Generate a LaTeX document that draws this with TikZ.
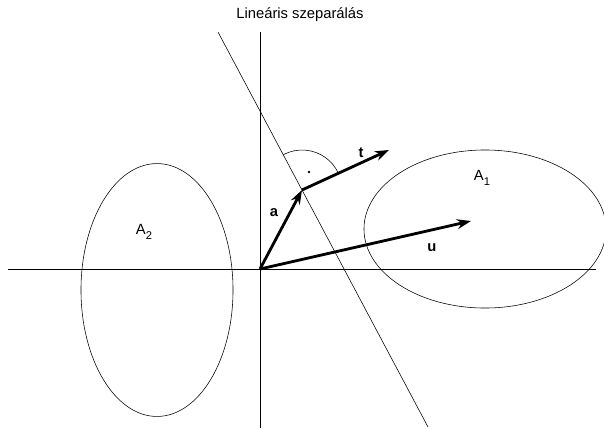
\documentclass[tikz,border=0pt]{standalone}
\usepackage{fontspec}
\setmainfont{Liberation Sans}
\usepackage{tikz}
\usetikzlibrary{arrows.meta,shapes,positioning,calc}

\newcommand{\halmaz}[1]{A\raisebox{-0.55ex}{\fontsize{8}{9}\selectfont #1}}

\tikzset{
    vec/.style={-{Stealth[length=10pt,width=7pt]},line width=2pt},
    lbl/.style={font=\fontsize{10.5}{12}\selectfont},
    vlbl/.style={font=\fontsize{10.5}{12}\selectfont\bfseries},
}

\begin{document}
\begin{tikzpicture}[x=0.025cm,y=-0.025cm]
    \useasboundingbox (0,0) rectangle (604,428);
    \clip (0,0) rectangle (604,428);

        % tengelyek
        \draw[black] (8,269) -- (596,269);
        \draw[black] (260,32) -- (260,428);

        % szeparalo egyenes
        \coordinate (s1) at (218,32);
        \coordinate (s2) at (428,427);
        \draw[black] (s1) -- (s2);

        % halmazok
        \draw[black] (485,229) ellipse [x radius=3.025cm, y radius=1.975cm];
        \draw[black] (157,290) ellipse [x radius=1.9cm, y radius=3.16cm];
        \node[lbl] (A1) at (482,178) {\halmaz{1}};
        \node[lbl] (A2) at (144,232) {\halmaz{2}};

        % vektorok
        \coordinate (O) at (260,269);
        \coordinate (a) at (302,190);
        \coordinate (t) at (389,150);
        \coordinate (u) at (471,221);
        \draw[vec] (O) -- (a);
        \draw[vec] (a) -- (t);
        \draw[vec] (O) -- (u);
        \node[vlbl] (la) at (274,213) {a};
        \node[vlbl] (lt) at (361,153) {t};
        \node[vlbl] (lu) at (432,248) {u};

        % derekszog
        \draw[black] (338.3,173.1) arc[start angle=25,end angle=118,radius=1cm];
        \fill (309,172) circle (0.9pt);

        \node[lbl] (title) at (300,15) {Lineáris szeparálás};

\end{tikzpicture}
\end{document}
